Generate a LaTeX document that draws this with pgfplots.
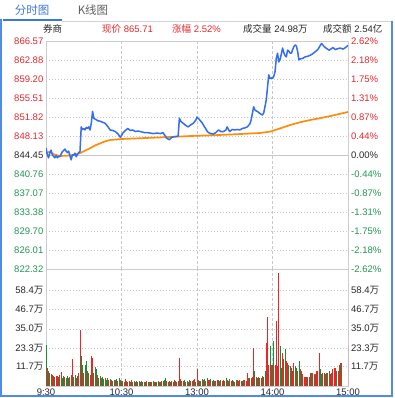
\documentclass[border=0pt]{standalone}
\usepackage{pgfplots}
\pgfplotsset{compat=1.18}
\usepackage{fontspec}
\setmainfont{Liberation Sans}
\newfontfamily\cj{Noto Sans CJK SC}
\definecolor{pred}{RGB}{232,40,45}
\definecolor{pgreen}{RGB}{35,150,85}
\definecolor{ptext}{RGB}{40,40,40}
\definecolor{barred}{RGB}{238,35,35}
\definecolor{bargreen}{RGB}{25,140,55}
\definecolor{priceblue}{RGB}{52,110,240}
\definecolor{avgorange}{RGB}{255,140,10}
\definecolor{tabblue}{RGB}{60,120,220}
\definecolor{frameblue}{RGB}{80,140,230}
\definecolor{gridc}{RGB}{200,200,200}
\definecolor{linec}{RGB}{205,205,205}
\pgfplotsset{
  panel/.style={scale only axis, width=302pt, xmin=0, xmax=240,
    axis line style={linec}, major tick length=0pt,
    tick label style={font=\fontsize{9.5}{11}\selectfont, text=ptext},
    ymajorgrids, major grid style={gridc, dash pattern=on 1pt off 2pt},
    extra x ticks={60,120,180}, extra x tick labels={},
    extra x tick style={grid=major, major grid style={gridc, dash pattern=on 3pt off 2pt}},
  },
  rightlab/.style={scale only axis, width=302pt, xmin=0, xmax=240,
    hide x axis, axis y line*=right, y axis line style={draw=none},
    major tick length=0pt, yticklabel pos=right,
    tick label style={font=\fontsize{9.5}{11}\selectfont, text=ptext},
    yticklabel style={inner sep=0pt, xshift=3pt},
  },
}
\begin{document}
\begin{tikzpicture}[font=\fontsize{9.5}{11}\selectfont]
\path[fill=white] (0pt,0pt) rectangle (394pt,-398pt);
% frame and tabs
\draw[gray!35] (62pt,-21pt) -- (392pt,-21pt);
\draw[frameblue, line width=1.3pt] (1pt,-19pt) -- (1pt,-396pt) -- (392pt,-396pt) -- (392pt,-21pt);
\draw[tabblue, line width=2pt] (3pt,-20pt) -- (62pt,-20pt);
\node[text=tabblue, font=\cj\fontsize{11.5}{12}\selectfont] at (32pt,-10pt) {分时图};
\node[text=gray!75!black, font=\cj\fontsize{11.5}{12}\selectfont] at (93pt,-10pt) {K线图};
% header
\node[anchor=west, inner sep=0pt, text=ptext] at (43pt,-29pt) {\cj 券商};
\node[anchor=west, inner sep=0pt, text=pred] at (102pt,-29pt) {{\cj 现价} 865.71};
\node[anchor=west, inner sep=0pt, text=pred] at (172pt,-29pt) {{\cj 涨幅} 2.52\%};
\node[anchor=west, inner sep=0pt, text=ptext] at (243pt,-29pt) {{\cj 成交量} 24.98{\cj 万}};
\node[anchor=west, inner sep=0pt, text=ptext] at (323pt,-29pt) {{\cj 成交额} 2.54{\cj 亿}};

% ---------- price panel ----------
\begin{axis}[panel, at={(46pt,-269pt)}, anchor=south west, height=228pt,
  ymin=822.32, ymax=866.57, xtick=\empty,
  ytick={822.32,826.01,829.70,833.38,837.07,840.76,844.45,848.13,851.82,855.51,859.20,862.88,866.57},
  yticklabels={\textcolor{pgreen}{822.32},\textcolor{pgreen}{826.01},\textcolor{pgreen}{829.70},\textcolor{pgreen}{833.38},\textcolor{pgreen}{837.07},\textcolor{pgreen}{840.76},\textcolor{ptext}{844.45},\textcolor{pred}{848.13},\textcolor{pred}{851.82},\textcolor{pred}{855.51},\textcolor{pred}{859.20},\textcolor{pred}{862.88},\textcolor{pred}{866.57}},
  yticklabel style={inner sep=0pt, xshift=-2.5pt},
  extra y ticks={844.45}, extra y tick labels={},
  extra y tick style={grid=major, major grid style={gray!45, solid}},
]
\addplot[avgorange, line width=1.7pt, mark=none] coordinates {
(0,844.8)(3,845.1)(6,844.6)(11,844.25)(16,844.3)(22,844.45)(27,844.8)(31,845.3)(35,845.75)(39,846.3)(43,846.7)(47,847.1)(51,847.36)(60,847.55)(75,847.7)(95,847.9)(115,848.13)(135,848.3)(155,848.52)(170,848.72)(178,848.97)(186,849.6)(194,850.27)(202,850.8)(210,851.24)(218,851.6)(226,852.01)(233,852.4)(240,852.79)
};
\addplot[priceblue, line width=1.5pt, mark=none, line join=round] coordinates {
(0,845.8)(1,844.6)(2,843.9)(3,844.8)(4,845.4)(5,844.5)(6,844.2)(7,843.9)(8,844.3)(9,843.9)(10,844.2)(11,844.1)(12,844.6)(13,845.1)(14,845.3)(15,845.6)(16,845.2)(17,844.9)(18,845.2)(19,844.3)(20,843.5)(21,844.5)(22,844.4)(23,844.8)(24,844.1)(25,844.6)(26,844.9)(27,845.1)(28,849.9)(29,849.4)(30,849.6)(31,849.3)(32,849.8)(33,849.6)(34,849.9)(35,849.3)(36,850.6)(37,852.9)(38,851.6)(39,851.4)(40,851.3)(41,851.1)(43,851.0)(45,850.8)(47,850.6)(49,850.0)(51,849.3)(53,849.2)(55,849.0)(57,848.6)(59,847.9)(60,848.2)(61,848.7)(63,849.2)(65,849.6)(67,849.2)(69,849.3)(71,849.0)(73,849.1)(75,849.0)(78,848.8)(80,848.8)(83,848.7)(85,848.6)(88,848.7)(91,848.6)(93,848.8)(94,848.4)(96,847.7)(98,847.4)(100,847.9)(102,848.0)(105,848.1)(106,851.6)(107,851.0)(109,850.6)(111,850.2)(113,849.9)(115,850.3)(117,850.6)(119,851.2)(120,851.8)(122,851.3)(124,850.7)(126,849.9)(128,849.1)(129,848.8)(131,848.6)(133,848.5)(135,848.8)(137,849.3)(139,849.0)(141,849.0)(143,849.3)(144,849.9)(145,849.4)(146,849.0)(148,849.4)(150,849.3)(152,849.4)(154,849.3)(156,849.6)(158,849.7)(160,849.9)(162,850.5)(163,851.2)(164,852.5)(165,853.8)(166,853.2)(167,853.0)(168,852.9)(170,852.5)(172,852.2)(173,852.6)(174,853.8)(175,855.1)(176,857.5)(177,860.0)(178,859.3)(179,859.4)(180,859.3)(181,859.7)(182,860.6)(183,863.2)(184,864.2)(185,862.5)(186,863.0)(187,864.0)(188,865.2)(189,864.3)(190,863.7)(191,863.5)(192,864.8)(193,864.6)(194,864.2)(195,864.2)(196,864.9)(197,865.5)(198,865.8)(199,865.6)(200,864.5)(201,862.9)(202,863.1)(204,863.2)(206,863.5)(208,863.6)(210,863.8)(212,864.1)(214,864.5)(216,864.9)(218,865.7)(219,866.1)(220,865.8)(221,865.5)(223,865.1)(225,864.8)(227,865.1)(228,865.3)(230,864.9)(232,865.1)(234,865.2)(236,865.0)(238,865.3)(240,865.71)
};
\end{axis}
\begin{axis}[rightlab, at={(46pt,-269pt)}, anchor=south west, height=228pt,
  ymin=822.32, ymax=866.57,
  ytick={822.32,826.01,829.70,833.38,837.07,840.76,844.45,848.13,851.82,855.51,859.20,862.88,866.57},
  yticklabels={\textcolor{pgreen}{-2.62\%},\textcolor{pgreen}{-2.18\%},\textcolor{pgreen}{-1.75\%},\textcolor{pgreen}{-1.31\%},\textcolor{pgreen}{-0.87\%},\textcolor{pgreen}{-0.44\%},\textcolor{ptext}{0.00\%},\textcolor{pred}{0.44\%},\textcolor{pred}{0.87\%},\textcolor{pred}{1.31\%},\textcolor{pred}{1.75\%},\textcolor{pred}{2.18\%},\textcolor{pred}{2.62\%}},
]
\end{axis}

% ---------- volume panel ----------
\begin{axis}[panel, at={(46pt,-385.7pt)}, anchor=south west, height=116.7pt,
  ymin=0, ymax=71.7,
  xtick={0,60,120,180,240}, xticklabels={9:30\hspace{6pt},10:30,13:00,14:00,15:00\hspace{10pt}},
  xticklabel style={inner sep=0pt, yshift=-2.5pt},
  ytick={11.7,23.3,35.0,46.7,58.4},
  yticklabels={11.7{\cj 万},23.3{\cj 万},35.0{\cj 万},46.7{\cj 万},58.4{\cj 万}},
  yticklabel style={inner sep=0pt, xshift=-2.5pt},
]
\addplot[ycomb, draw=barred, line width=0.85pt, mark=none] coordinates {
(1,11.1)(3,8)(5,6.5)(6,6)(8,6)(9,5.8)(11,6.5)(12,8.5)(15,5.5)(18,4.5)(20,6.5)(21,16.2)(24,5)(26,8)(27,34)(30,8)(33,9)(35,6.5)(36,18.2)(37,17)(41,6.5)(44,4.5)(47,5)(50,3.8)(52,3.5)(55,3.2)(57,3)(60,2.8)(62,2.5)(63,4)(65,2.5)(66,2.8)(68,3.2)(71,2)(73,2.4)(75,2.2)(78,2.5)(80,2.8)(83,2.5)(84,2)(87,2.1)(89,2.8)(91,2.4)(93,3)(96,3)(98,2.8)(99,2.2)(101,2.5)(102,3.5)(104,2.5)(106,17)(107,4)(109,2.8)(111,2.5)(113,2.4)(115,2.6)(117,3.5)(118,4)(120,10)(122,3)(124,4)(127,3)(129,3.5)(130,3.2)(132,2.8)(134,3)(136,3.2)(137,3.8)(140,3)(141,3.8)(144,3.2)(145,3)(147,2.8)(149,3)(151,3.2)(153,2.8)(154,3.4)(156,2.6)(158,3.2)(159,3)(160,8)(161,5)(164,5.5)(165,23.3)(167,5.5)(170,5)(171,5)(173,5.5)(175,26.4)(176,42)(177,13)(179,13)(180,13)(182,13)(183,39.5)(184,12)(185,69)(188,20.3)(189,16.2)(191,15)(192,14)(194,12)(196,9)(197,14)(200,9)(202,10)(204,7)(205,5.5)(206,5.5)(208,5.5)(209,5.5)(210,8)(212,8)(213,7)(215,9)(216,9)(217,20.3)(220,8)(222,7)(224,8)(226,7)(227,8)(228,10)(229,11)(230,11)(232,9)(233,13)(235,14)(240,25)
};
\addplot[ycomb, draw=bargreen, line width=0.85pt, mark=none] coordinates {
(0,24.9)(2,9.1)(4,7)(7,5.5)(10,5.5)(13,4.5)(14,6)(16,5)(17,6)(19,5.5)(22,5.5)(23,6.5)(25,6)(28,18.2)(29,12.6)(31,13)(32,15.2)(34,7.5)(38,8)(39,11.5)(40,10.1)(42,5)(43,6)(45,5.5)(46,4)(48,3.5)(49,4.5)(51,4.2)(53,3)(54,3.8)(56,4)(58,4.5)(59,3.5)(61,3)(64,3)(67,2.2)(69,2.5)(70,2.6)(72,2.8)(74,3)(76,2.6)(77,2.2)(79,2)(81,2.4)(82,2.2)(85,2.6)(86,2.3)(88,2.5)(90,2.2)(92,2.6)(94,3.5)(95,5)(97,2.5)(100,3)(103,2.8)(105,3)(108,3)(110,3.5)(112,3)(114,3.2)(116,3)(119,2.5)(121,3.5)(123,2.8)(125,3.2)(126,4.2)(128,4.5)(131,4)(133,3.5)(135,2.6)(138,2.8)(139,3.4)(142,2.6)(143,4.5)(146,4)(148,3.5)(150,2.5)(152,3.6)(155,3)(157,3.5)(162,4.5)(163,5)(166,9)(168,5)(169,5.5)(172,6)(174,9)(178,24.3)(181,27.4)(186,24.3)(187,11)(190,22.3)(193,13)(195,11)(198,12)(199,11)(201,15)(203,9)(207,5.5)(211,8)(214,7)(218,10)(219,7)(221,8)(223,8)(225,9)(231,9)(234,14)
};
\end{axis}
\begin{axis}[rightlab, at={(46pt,-385.7pt)}, anchor=south west, height=116.7pt,
  ymin=0, ymax=71.7,
  ytick={11.7,23.3,35.0,46.7,58.4},
  yticklabels={11.7{\cj 万},23.3{\cj 万},35.0{\cj 万},46.7{\cj 万},58.4{\cj 万}},
]
\end{axis}
\end{tikzpicture}
\end{document}
